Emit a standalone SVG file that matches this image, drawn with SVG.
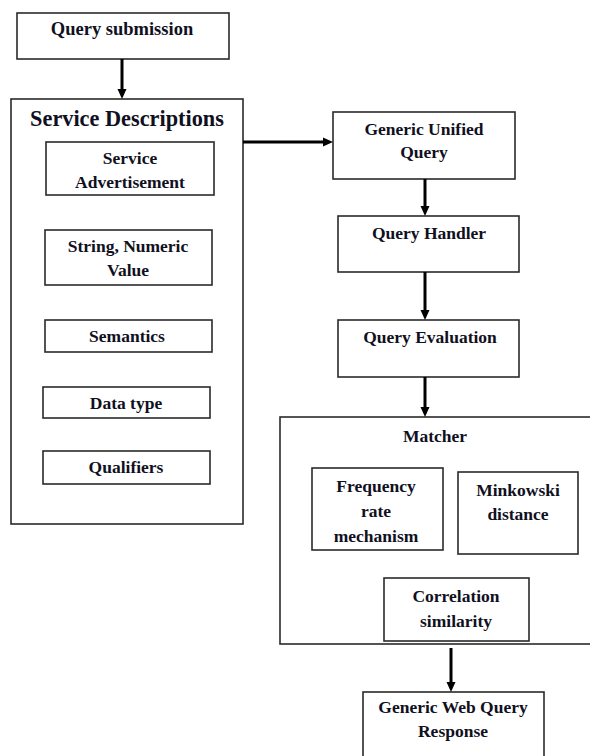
<svg xmlns="http://www.w3.org/2000/svg" width="590" height="756" viewBox="0 0 590 756">
  <style>
    .box { fill: #ffffff; stroke: #2a2a2a; stroke-width: 1.6; }
    .lbl { font-family: "Liberation Serif", "Times New Roman", serif; font-weight: bold; font-size: 17.5px; fill: #10101e; text-anchor: middle; }
    .big { font-size: 22.3px; }
    .mid { font-size: 18.5px; }
    .conn { stroke: #000000; stroke-width: 3; fill: none; marker-end: url(#head); }
  </style>
  <defs>
    <marker id="head" markerUnits="userSpaceOnUse" viewBox="0 -5 10 10" markerWidth="10" markerHeight="10" refX="0" refY="0" orient="auto">
      <path d="M0,-4.5 L10,0 L0,4.5 Z" fill="#000000"/>
    </marker>
  </defs>

  <rect width="590" height="756" fill="#ffffff"/>

  <!-- left column -->
  <g id="query-submission">
    <rect class="box" x="17" y="13" width="212" height="46"/>
    <text class="lbl mid" x="122" y="35">Query submission</text>
  </g>

  <g id="service-descriptions">
    <rect class="box" x="11" y="99" width="232" height="425"/>
    <text class="lbl big" x="127" y="126">Service Descriptions</text>
  </g>

  <g id="service-advertisement">
    <rect class="box" x="46" y="142" width="168" height="53"/>
    <text class="lbl" x="130" y="164">Service</text>
    <text class="lbl" x="130" y="188">Advertisement</text>
  </g>

  <g id="string-numeric">
    <rect class="box" x="45" y="230" width="167" height="55"/>
    <text class="lbl" x="128" y="252">String, Numeric</text>
    <text class="lbl" x="128" y="276">Value</text>
  </g>

  <g id="semantics">
    <rect class="box" x="45" y="320" width="167" height="32"/>
    <text class="lbl" x="127" y="342">Semantics</text>
  </g>

  <g id="data-type">
    <rect class="box" x="43" y="387" width="167" height="31"/>
    <text class="lbl" x="126" y="409">Data type</text>
  </g>

  <g id="qualifiers">
    <rect class="box" x="43" y="451" width="167" height="33"/>
    <text class="lbl" x="126" y="473">Qualifiers</text>
  </g>

  <!-- right column -->
  <g id="generic-unified-query">
    <rect class="box" x="333" y="112" width="182" height="67"/>
    <text class="lbl" x="424" y="135">Generic Unified</text>
    <text class="lbl" x="424" y="158">Query</text>
  </g>

  <g id="query-handler">
    <rect class="box" x="338" y="216" width="181" height="56"/>
    <text class="lbl" x="429" y="239">Query Handler</text>
  </g>

  <g id="query-evaluation">
    <rect class="box" x="338" y="320" width="181" height="57"/>
    <text class="lbl" x="430" y="343">Query Evaluation</text>
  </g>

  <g id="matcher">
    <rect class="box" x="280" y="417" width="320" height="227"/>
    <text class="lbl" x="435" y="442">Matcher</text>
  </g>

  <g id="frequency-rate">
    <rect class="box" x="312" y="468" width="131" height="82"/>
    <text class="lbl" x="376" y="492">Frequency</text>
    <text class="lbl" x="376" y="517">rate</text>
    <text class="lbl" x="376" y="542">mechanism</text>
  </g>

  <g id="minkowski">
    <rect class="box" x="458" y="472" width="120" height="82"/>
    <text class="lbl" x="518" y="496">Minkowski</text>
    <text class="lbl" x="518" y="520">distance</text>
  </g>

  <g id="correlation">
    <rect class="box" x="384" y="578" width="145" height="63"/>
    <text class="lbl" x="456" y="602">Correlation</text>
    <text class="lbl" x="456" y="627">similarity</text>
  </g>

  <g id="web-query-response">
    <rect class="box" x="363" y="692" width="181" height="80"/>
    <text class="lbl" x="453" y="713">Generic Web Query</text>
    <text class="lbl" x="453" y="737">Response</text>
  </g>

  <!-- connectors -->
  <g id="connectors">
    <line class="conn" x1="122" y1="59" x2="122" y2="89"/>
    <line class="conn" x1="243" y1="142" x2="323" y2="142"/>
    <line class="conn" x1="425" y1="179" x2="425" y2="206"/>
    <line class="conn" x1="425" y1="272" x2="425" y2="310"/>
    <line class="conn" x1="425" y1="377" x2="425" y2="407"/>
    <line class="conn" x1="451" y1="648" x2="451" y2="682"/>
  </g>
</svg>
